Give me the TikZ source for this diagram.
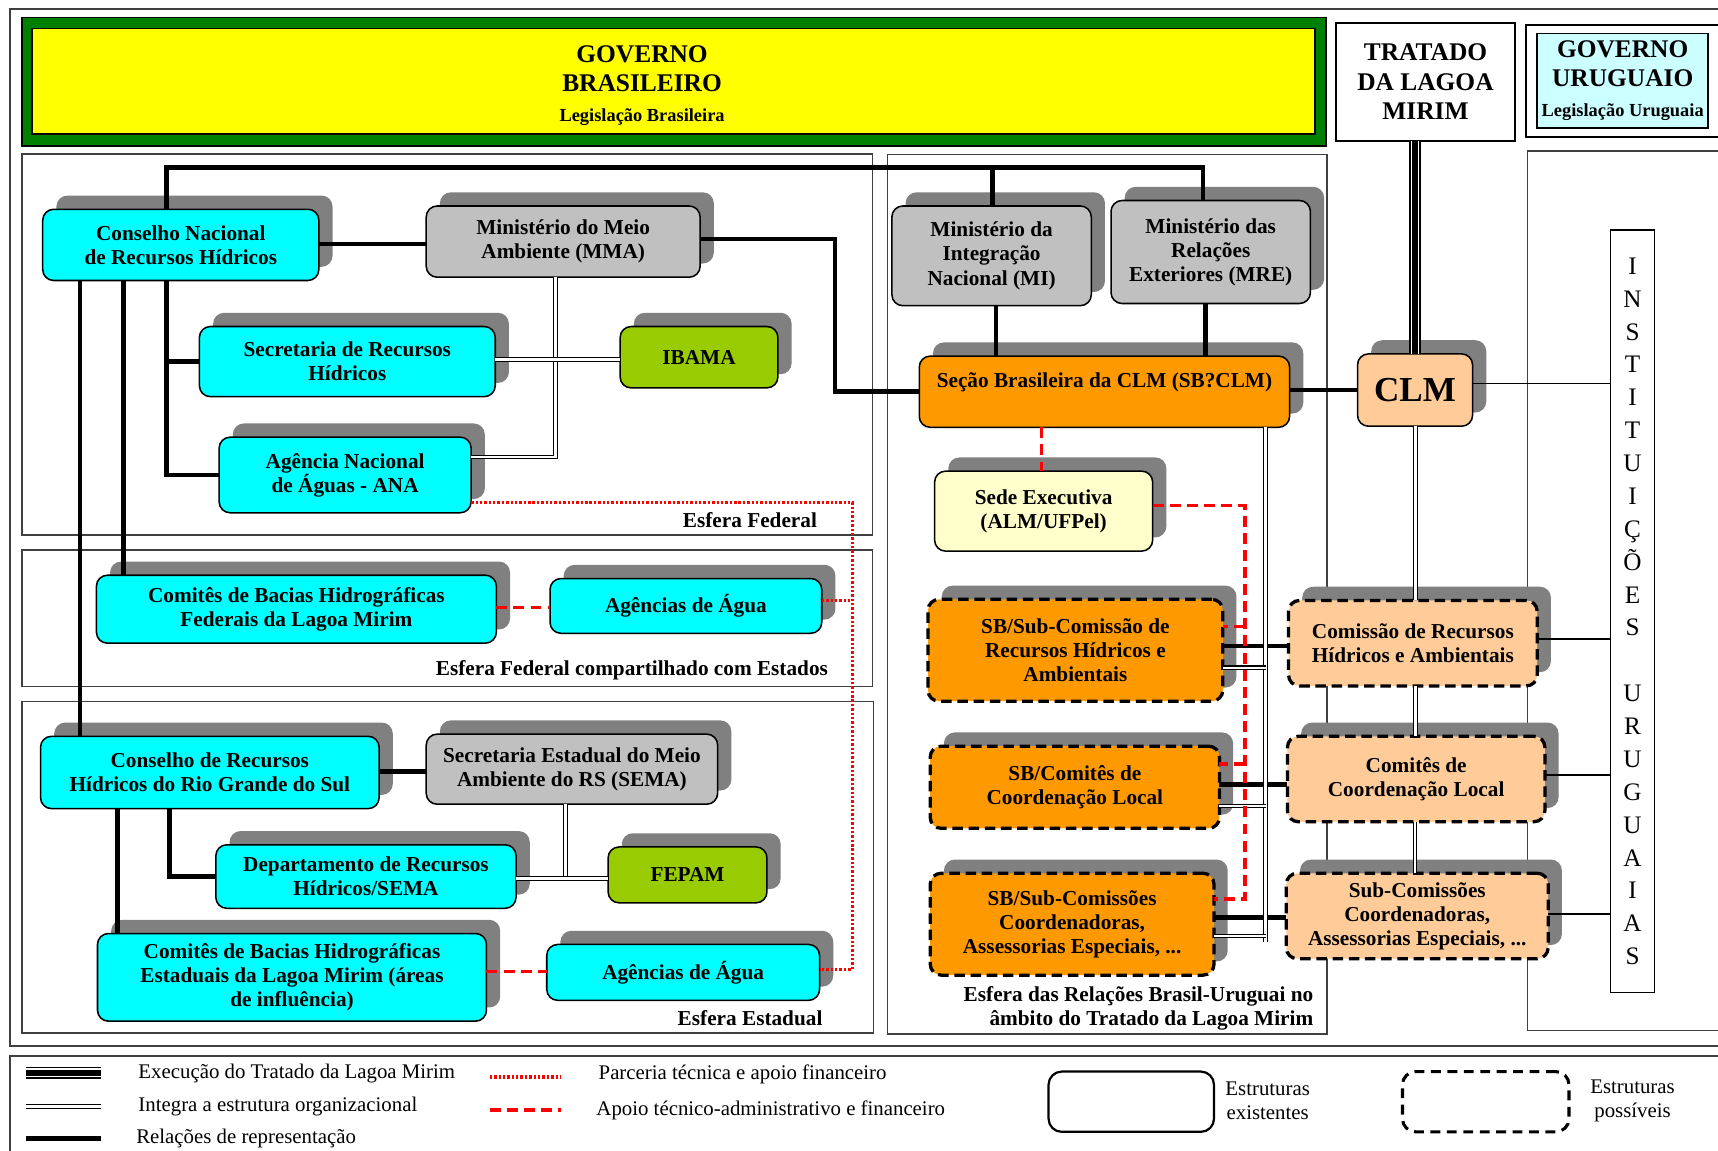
\documentclass[tikz,border=0pt]{standalone}
\usepackage{fontspec}
\setmainfont{Liberation Serif}
\usetikzlibrary{calc}
\definecolor{cyanc}{HTML}{00FFFF}
\definecolor{grayc}{HTML}{C0C0C0}
\definecolor{shadowc}{HTML}{808080}
\definecolor{greenc}{HTML}{99CC00}
\definecolor{orangec}{HTML}{FF9900}
\definecolor{peachc}{HTML}{FFCC99}
\definecolor{lyellowc}{HTML}{FFFFCC}
\definecolor{lcyanc}{HTML}{CCFFFF}
\definecolor{hgreen}{HTML}{008000}
\definecolor{hyellow}{HTML}{FFFF00}
\definecolor{redc}{HTML}{FF0000}
\newcommand\nodefont{\fontsize{9.7}{11}\selectfont\bfseries}
\newcommand\mkbox[7]{%
  \pgfmathsetmacro\mkbw{(#5-(#3))*0.5}%
  \pgfmathsetmacro\mkbh{(#6-(#4))*0.5}%
  \fill[shadowc, rounded corners=5pt] (#3+12.5,#4-12.5) rectangle (#5+12.5,#6-12.5);
  \node[#1, minimum width=\mkbw pt, minimum height=\mkbh pt] (#2) at ({(#3+#5)/2},{(#4+#6)/2}) {#7};
}
\begin{document}
\begin{tikzpicture}[x=0.5pt,y=-0.5pt,
  box/.style={draw=black, line width=0.7pt, rounded corners=5pt, inner sep=2pt, outer sep=0pt, align=center, font=\nodefont},
  dbox/.style={box, line width=1.5pt, dash pattern=on 4.8pt off 2.6pt},
  panel/.style={draw=black!75, line width=0.7pt},
  rep/.style={line width=2.1pt},
  dbl/.style={double=white, double distance=1.1pt, line width=0.5pt},
  exec/.style={line width=5.6pt, postaction={draw=white, line width=4.0pt}, postaction={draw=black, line width=2.6pt}},
  thin/.style={line width=0.6pt},
  parc/.style={draw=redc, line width=1.6pt, dash pattern=on 1.1pt off 0.9pt},
  apoio/.style={draw=redc, line width=1.6pt, dash pattern=on 5pt off 2.8pt},
  lbl/.style={font=\nodefont, inner sep=0pt},
  leg/.style={font=\fontsize{9.5}{11}\selectfont, inner sep=0pt, anchor=west},
  title/.style={font=\fontsize{11.6}{13.5}\selectfont\bfseries, align=center}
]
\useasboundingbox (0,0) rectangle (1568,1050);
\fill[white] (0,0) rectangle (1568,1050);
\clip (0,0) rectangle (1568,1050);

% frames and panels
\draw[panel] (9,8) rectangle (1620,954.5);
\draw[panel] (9,964) rectangle (1620,1090);
\draw[panel] (20,140.5) rectangle (796.4,488.3);
\draw[panel] (20,502) rectangle (796.4,626.7);
\draw[panel] (20,640.4) rectangle (797.4,943);
\draw[panel] (809.8,141.2) rectangle (1211,943.7);
\draw[panel] (1394,137.8) rectangle (1620,940.7);

% header
\node[draw=black, line width=0.8pt, fill=hgreen, minimum width=595pt, minimum height=58.5pt, inner sep=0pt, outer sep=0pt] (brframe) at (615,74.5) {};
\node[draw=black, line width=0.8pt, fill=hyellow, minimum width=585.5pt, minimum height=48pt, inner sep=0pt, outer sep=0pt] (brbox) at (614.5,74) {};
\node[title] (brtext) at (586,78) {GOVERNO\\BRASILEIRO\\{\fontsize{8.4}{10}\selectfont Legislação Brasileira}};
\node[draw=black, line width=0.8pt, fill=white, minimum width=82pt, minimum height=53.7pt, inner sep=0pt, outer sep=0pt, title] (trat) at (1301,74.7) {TRATADO\\DA LAGOA\\MIRIM};
\node[draw=black, line width=0.8pt, fill=white, minimum width=120pt, minimum height=51pt, inner sep=0pt, outer sep=0pt] (uyframe) at (1513,74) {};
\node[draw=black, line width=0.8pt, fill=lcyanc, minimum width=78pt, minimum height=43pt, inner sep=0pt, outer sep=0pt, title] (govuy) at (1481,73.5) {GOVERNO\\URUGUAIO\\{\fontsize{8.4}{10}\selectfont Legislação Uruguaia}};

% boxes: federal
\mkbox{box, fill=cyanc}{cnrh}{39}{191}{291}{256}{Conselho Nacional\\de Recursos Hídricos}
\mkbox{box, fill=grayc}{mma}{389}{188}{639}{253}{Ministério do Meio\\Ambiente (MMA)}
\mkbox{box, fill=cyanc}{srh}{182}{298}{452}{362}{Secretaria de Recursos\\Hídricos}
\mkbox{box, fill=greenc}{ibama}{566}{298}{710}{354}{IBAMA}
\mkbox{box, fill=cyanc}{ana}{200}{399}{430}{468}{Agência Nacional\\de Águas - ANA}
% shared
\mkbox{box, fill=cyanc}{cbhf}{88}{525}{453}{587}{Comitês de Bacias Hidrográficas\\Federais da Lagoa Mirim}
\mkbox{box, fill=cyanc}{agf}{502}{528}{750}{578}{Agências de Água}
% state
\mkbox{box, fill=cyanc}{crhrs}{37}{672}{346}{738}{Conselho de Recursos\\Hídricos do Rio Grande do Sul}
\mkbox{box, fill=grayc}{sema}{389}{670}{655}{734}{Secretaria Estadual do Meio\\Ambiente do RS (SEMA)}
\mkbox{box, fill=cyanc}{drh}{197}{771}{471}{829}{Departamento de Recursos\\Hídricos/SEMA}
\mkbox{box, fill=greenc}{fepam}{555}{773}{700}{824}{FEPAM}
\mkbox{box, fill=cyanc}{cbhe}{89}{852}{444}{932}{Comitês de Bacias Hidrográficas\\Estaduais da Lagoa Mirim (áreas\\de influência)}
\mkbox{box, fill=cyanc}{age}{499}{862}{748}{913}{Agências de Água}
% relations
\mkbox{box, fill=grayc}{mi}{814}{188}{996}{279}{Ministério da\\Integração\\Nacional (MI)}
\mkbox{box, fill=grayc}{mre}{1014}{183}{1196}{277}{Ministério das\\Relações\\Exteriores (MRE)}
\mkbox{box, fill=orangec}{sbclm}{839}{325}{1177}{390}{Seção Brasileira da CLM (SB?CLM)\\\mbox{}}
\mkbox{box, fill=lyellowc}{sede}{853}{430}{1052}{503}{Sede Executiva\\(ALM/UFPel)}
\mkbox{box, fill=peachc, font=\fontsize{16}{18}\selectfont\bfseries}{clm}{1239}{323}{1344}{389}{CLM}
\mkbox{dbox, fill=orangec}{sba}{847}{547}{1116}{640}{SB/Sub-Comissão de\\Recursos Hídricos e\\Ambientais}
\mkbox{dbox, fill=orangec}{sbb}{849}{681}{1113}{756}{SB/Comitês de\\Coordenação Local}
\mkbox{dbox, fill=orangec}{sbc}{849}{797}{1108}{890}{SB/Sub-Comissões\\Coordenadoras,\\Assessorias Especiais, ...}
\mkbox{dbox, fill=peachc}{uca}{1176}{548}{1403}{626}{Comissão de Recursos\\Hídricos e Ambientais}
\mkbox{dbox, fill=peachc}{ucb}{1175}{672}{1410}{750}{Comitês de\\Coordenação Local}
\mkbox{dbox, fill=peachc}{ucc}{1174}{797}{1413}{875}{Sub-Comissões\\Coordenadoras,\\Assessorias Especiais, ...}
\node[draw=black, line width=0.7pt, fill=white, minimum width=20pt, minimum height=348pt, inner sep=0pt, outer sep=0pt, align=center, font=\fontsize{11.5}{15}\selectfont] (inst) at (1490,558) {I\\N\\S\\T\\I\\T\\U\\I\\Ç\\Õ\\E\\S\\\mbox{}\\U\\R\\U\\G\\U\\A\\I\\A\\S};

% labels
\node[lbl, anchor=east] (lfed) at (746,475) {Esfera Federal};
\node[lbl, anchor=east] (lcomp) at (756,612) {Esfera Federal compartilhado com Estados};
\node[lbl, anchor=east] (lest) at (751,929) {Esfera Estadual};
\node[lbl, anchor=east, align=right] (lrel) at (1199,920) {Esfera das Relações Brasil-Uruguai no\\âmbito do Tratado da Lagoa Mirim};

% representation (thick)
\draw[rep] (152,0 |- cnrh.north) -- (152,153) -- (1098,153) -- (1098,0 |- mre.north);
\draw[rep] (906,153) -- (906,0 |- mi.north);
\draw[rep] (cnrh.east |- 0,222.7) -- (mma.west |- 0,222.7);
\draw[rep] (mma.east |- 0,218) -| (762,357.5) -- (sbclm.west |- 0,357.5);
\draw[rep] (73,0 |- cnrh.south) -- (73,0 |- crhrs.north);
\draw[rep] (112.6,0 |- cnrh.south) -- (112.6,0 |- cbhf.north);
\draw[rep] (152,0 |- cnrh.south) |- (ana.west);
\draw[rep] (152,0 |- srh.west) -- (srh.west);
\draw[rep] (909,0 |- mi.south) -- (909,0 |- sbclm.north);
\draw[rep] (1100,0 |- mre.south) -- (1100,0 |- sbclm.north);
\draw[rep] (sbclm.east |- 0,356) -- (clm.west |- 0,356);
\draw[rep] (sba.east |- 0,589.6) -- (uca.west |- 0,589.6);
\draw[rep] (sbb.east |- 0,716) -- (ucb.west |- 0,716);
\draw[rep] (sbc.east |- 0,837.5) -- (ucc.west |- 0,837.5);
\draw[rep] (crhrs.east |- 0,704.3) -- (sema.west |- 0,704.3);
\draw[rep] (154.5,0 |- crhrs.south) |- (drh.west);
\draw[rep] (107.4,0 |- crhrs.south) -- (107.4,0 |- cbhe.north);

% organisational (double)
\draw[dbl] (507,0 |- mma.south) |- (ana.east |- 0,417);
\draw[dbl] (srh.east |- 0,328) -- (ibama.west |- 0,328);
\draw[dbl] (516,0 |- sema.south) -- (516,801.6);
\draw[dbl] (drh.east |- 0,801.6) -- (fepam.west |- 0,801.6);
\draw[dbl] (1155,0 |- sbclm.south) -- (1155,859.4);
\draw[dbl] (sba.east |- 0,609.4) -- (1155,609.4);
\draw[dbl] (sbb.east |- 0,735.6) -- (1155,735.6);
\draw[dbl] (sbc.east |- 0,854.3) -- (1155,854.3);
\draw[dbl] (1292,0 |- clm.south) -- (1292,0 |- uca.north);
\draw[dbl] (1292,0 |- uca.south) -- (1292,0 |- ucb.north);
\draw[dbl] (1291.5,0 |- ucb.south) -- (1291.5,0 |- ucc.north);

% treaty execution (triple)
\draw[exec] (1291.5,0 |- trat.south) -- (1291.5,0 |- clm.north);

% thin lines to Uruguayan institutions
\draw[thin] (clm.east |- 0,349.8) -- (inst.west |- 0,349.8);
\draw[thin] (uca.east |- 0,583.2) -- (inst.west |- 0,583.2);
\draw[thin] (ucb.east |- 0,707.3) -- (inst.west |- 0,707.3);
\draw[thin] (ucc.east |- 0,834.2) -- (inst.west |- 0,834.2);

% support (red dashed)
\draw[apoio] (950.7,0 |- sbclm.south) -- (950.7,0 |- sede.north);
\draw[apoio] (sede.east |- 0,461.5) -| (1136.3,820.5) -- (sbc.east |- 0,820.5);
\draw[apoio] (1136.3,572) -- (sba.east |- 0,572);
\draw[apoio] (1136.3,697.3) -- (sbb.east |- 0,697.3);
\draw[apoio] (cbhf.east |- 0,554.6) -- (agf.west |- 0,554.6);
\draw[apoio] (cbhe.east |- 0,886.8) -- (age.west |- 0,886.8);

% partnership (red dotted)
\draw[parc] (ana.east |- 0,458.4) -| (778,884.7) -- (age.east |- 0,884.7);
\draw[parc] (agf.east |- 0,548.2) -- (778,548.2);

% legend
\coordinate (l1a) at (24,979); \coordinate (l1b) at (92,979);
\coordinate (l2a) at (24,1010); \coordinate (l2b) at (92,1010);
\coordinate (l3a) at (24,1039); \coordinate (l3b) at (92,1039);
\coordinate (l4a) at (447,983); \coordinate (l4b) at (512,983);
\coordinate (l5a) at (447,1013); \coordinate (l5b) at (512,1013);
\draw[exec] (l1a) -- (l1b);
\draw[dbl] (l2a) -- (l2b);
\draw[rep] (l3a) -- (l3b);
\draw[parc] (l4a) -- (l4b);
\draw[apoio] (l5a) -- (l5b);
\node[leg] (t1) at (126,980) {Execução do Tratado da Lagoa Mirim};
\node[leg] (t2) at (126,1010) {Integra a estrutura organizacional};
\node[leg] (t3) at (124,1039) {Relações de representação};
\node[leg] (t4) at (546,981) {Parceria técnica e apoio financeiro};
\node[leg] (t5) at (544,1013) {Apoio técnico-administrativo e financeiro};
\node[draw=black, line width=1pt, rounded corners=6pt, minimum width=75.5pt, minimum height=27.5pt] (lgsolid) at (1032.5,1005.5) {};
\node[draw=black, line width=1.4pt, dash pattern=on 4.5pt off 3pt, rounded corners=6pt, minimum width=76pt, minimum height=27.5pt] (lgdash) at (1356,1005.5) {};
\node[font=\fontsize{9.5}{11}\selectfont, align=center, inner sep=0pt] (t6) at (1157,1005) {Estruturas\\existentes};
\node[font=\fontsize{9.5}{11}\selectfont, align=center, inner sep=0pt] (t7) at (1490,1005) {Estruturas\\possíveis};
\end{tikzpicture}
\end{document}
